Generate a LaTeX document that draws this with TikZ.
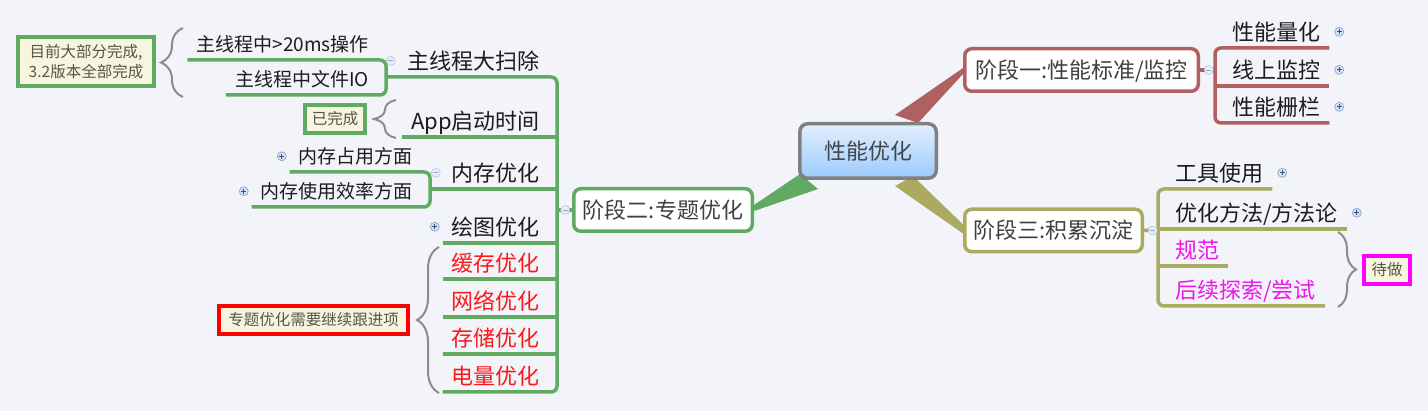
\documentclass[tikz,border=0pt]{standalone}
\usepackage{fontspec}
\setmainfont{Noto Sans CJK SC}
\usetikzlibrary{positioning,calc,decorations.pathreplacing}
\definecolor{bgc}{RGB}{243,244,250}
\definecolor{grn}{RGB}{97,170,97}
\definecolor{rdb}{RGB}{176,96,96}
\definecolor{olv}{RGB}{170,170,96}
\definecolor{ink}{RGB}{28,28,28}
\definecolor{boxink}{RGB}{64,64,64}
\definecolor{noteink}{RGB}{85,85,75}
\definecolor{notefill}{RGB}{246,246,222}
\definecolor{todo}{RGB}{250,25,25}
\definecolor{mag}{RGB}{240,20,240}
\definecolor{pinkbox}{RGB}{255,0,255}
\definecolor{redbox}{RGB}{255,0,0}
\definecolor{btnfill}{RGB}{212,226,246}
\definecolor{btnline}{RGB}{130,158,205}
\definecolor{signc}{RGB}{60,80,120}
\definecolor{bracec}{RGB}{140,140,140}
\definecolor{coreline}{RGB}{128,128,128}
\newcommand{\szbig}{\fontsize{22pt}{26pt}\selectfont}
\newcommand{\szsub}{\fontsize{19pt}{23pt}\selectfont}
\newcommand{\sznote}{\fontsize{15.5pt}{20pt}\selectfont}
\tikzset{
  lkid/.style={font=\szbig, text=ink, anchor=south east, inner xsep=9pt, inner ysep=5pt,
    text height=19.4pt, text depth=2.6pt},
  rkid/.style={lkid, anchor=south west},
  lsub/.style={font=\szsub, text=ink, anchor=south east, inner xsep=9pt, inner ysep=6pt,
    text height=16.7pt, text depth=2.3pt},
  stage/.style={draw=#1, line width=3.5pt, fill=white, rounded corners=7pt, font=\szbig,
    text=boxink, minimum height=42.5pt, text height=19.4pt, text depth=2.6pt},
  note/.style={draw=#1, line width=4pt, fill=notefill, font=\sznote, text=noteink,
    inner sep=0pt, align=center},
  tline/.style={draw=#1, line width=3.5pt, rounded corners=6pt},
  brc/.style={draw=bracec, line width=2pt, decorate, decoration={brace, amplitude=#1}},
  btn/.style={circle, draw=btnline, fill=btnfill, line width=0.6pt, minimum size=9pt, inner sep=0pt},
  pbtn/.style={btn, path picture={\draw[signc, line width=0.9pt]
    (path picture bounding box.center) ++(-2.5,0) -- ++(5,0)
    (path picture bounding box.center) ++(0,-2.5) -- ++(0,5);}},
  mbtn/.style={btn, draw=btnline!60, fill=btnfill!60, path picture={\draw[signc!50, line width=0.9pt]
    (path picture bounding box.center) ++(-2.5,0) -- ++(5,0);}},
}
\begin{document}
\begin{tikzpicture}[x=1pt,y=-1pt]
\useasboundingbox (0,0) rectangle (1428,411);
\fill[bgc] (0,0) rectangle (1428,411);
% STAGES
\node[stage=rdb, minimum width=233.5pt] (s1) at (1081.5,70) {阶段一:性能标准/监控};
\node[stage=grn, minimum width=178.5pt] (s2) at (663,210) {阶段二:专题优化};
\node[stage=olv, minimum width=177.5pt] (s3) at (1053.5,230.5) {阶段三:积累沉淀};
% WEDGES
\coordinate (w1a) at (895,115); \coordinate (w1b) at (918,123);
\coordinate (w2a) at (800,174); \coordinate (w2b) at (818,189);
\coordinate (w3a) at (913,176); \coordinate (w3b) at (895,186);
\fill[rdb] (w1a) -- ($(s1.west)+(0,-2)$) -- ($(s1.west)+(0,4)$) -- (w1b) -- cycle;
\fill[grn] (w2a) -- (w2b) -- ($(s2.east)+(0,1)$) -- ($(s2.east)+(0,-5)$) -- cycle;
\fill[olv] (w3a) -- ($(s3.west)+(0,-6)$) -- ($(s3.west)+(0,3)$) -- (w3b) -- cycle;
% CORE
\node[draw=coreline, line width=3.5pt, rounded corners=8pt, top color={rgb,255:red,226;green,239;blue,255},
  bottom color={rgb,255:red,156;green,202;blue,252}, minimum width=136.5pt, minimum height=54.5pt,
  font=\szbig, text={rgb,255:red,68;green,68;blue,68}] (core) at (868,151) {性能优化};
% LEFT
\node[lkid] (zx) at (549,77) {主线程大扫除};
\node[lkid] (app) at (549,137) {App启动时间};
\node[lkid] (nc) at (549,189) {内存优化};
\node[lkid] (ht) at (549,243) {绘图优化};
\node[lkid, text=todo] (hc) at (549,279) {缓存优化};
\node[lkid, text=todo] (wl) at (549,317) {网络优化};
\node[lkid, text=todo] (cc) at (549,354) {存储优化};
\node[lkid, text=todo] (dl) at (549,392) {电量优化};
\node[lsub] (c1) at (378,60) {主线程中>20ms操作};
\node[lsub] (c2) at (378,95) {主线程中文件IO};
\node[lsub] (m1) at (422,172) {内存占用方面};
\node[lsub] (m2) at (422,207) {内存使用效率方面};
\coordinate (sp2) at (557,210);
\coordinate (sp21) at (386,77);
\coordinate (sp23) at (430,189);
\draw[tline=grn] (sp21) -| (sp2) |- (dl.south west);
\draw[tline=grn] (app.south west) -- (app.south west -| sp2);
\draw[tline=grn] (sp23) -- (sp23 -| sp2);
\foreach \k in {ht,hc,wl,cc}
  \draw[tline=grn] (\k.south west) -- (\k.south west -| sp2);
\draw[tline=grn] (s2.west) -- (sp2);
\draw[tline=grn] (c1.south west) -| (sp21) |- (c2.south west);
\draw[tline=grn] (m1.south west) -| (sp23) |- (m2.south west);
% RIGHT
\node[rkid] (r1) at (1223,48) {性能量化};
\node[rkid] (r2) at (1223,86) {线上监控};
\node[rkid] (r3) at (1223,123) {性能栅栏};
\node[rkid] (t1) at (1166,189) {工具使用};
\node[rkid] (t2) at (1166,229) {优化方法/方法论};
\node[rkid, text=mag] (t3) at (1166,266) {规范};
\node[rkid, text=mag] (t4) at (1166,306) {后续探索/尝试};
\coordinate (sp1) at (1215,70);
\coordinate (sp3) at (1158,230);
\draw[tline=rdb] (r1.south east) -| (sp1) |- (r3.south east);
\draw[tline=rdb] (r2.south east) -- (r2.south east -| sp1);
\draw[tline=rdb] (s1.east) -- (sp1);
\draw[tline=olv] (t1.south east) -| (sp3) |- (t4.south east);
\draw[tline=olv] (t2.south east) -- (t2.south east -| sp3);
\draw[tline=olv] (t3.south east) -- (t3.south east -| sp3);
\draw[tline=olv] (s3.east) -- (sp3);
% NOTES
\node[note=grn, minimum width=136pt, minimum height=49pt] (n1) at (86,61.5) {目前大部分完成,\\3.2版本全部完成};
\node[note=grn, minimum width=60pt, minimum height=28pt] (n2) at (335,119) {已完成};
\node[note=redbox, minimum width=189pt, minimum height=28pt] (n3) at (313.5,320) {专题优化需要继续跟进项};
\node[note=pinkbox, minimum width=46pt, minimum height=28pt] (n4) at (1387,270) {待做};
\coordinate (b1a) at (183,97); \coordinate (b1b) at (183,28);
\coordinate (b2a) at (396,138); \coordinate (b2b) at (396,100);
\coordinate (b3a) at (439,393); \coordinate (b3b) at (439,247);
\coordinate (b4a) at (1338,232); \coordinate (b4b) at (1338,307);
\draw[brc=22pt] (b1a) -- (b1b);
\draw[brc=22pt] (b2a) -- (b2b);
\draw[brc=22pt] (b3a) -- (b3b);
\draw[brc=18pt] (b4a) -- (b4b);
% BUTTONS
\node[mbtn, left=3pt of zx] (bzx) {};
\node[mbtn, left=2pt of nc] (bnc) {};
\node[mbtn, left=2pt of s2] (bs2) {};
\node[mbtn, right=4pt of s1] (bs1) {};
\node[mbtn, right=4pt of s3] (bs3) {};
\node[pbtn, left=3pt of ht] (bht) {};
\node[pbtn, left=3pt of m1] (bm1) {};
\node[pbtn, left=3pt of m2] (bm2) {};
\foreach \k in {r1,r2,r3,t1,t2}
  \node[pbtn, right=5pt of \k] (b\k) {};
\end{tikzpicture}
\end{document}
